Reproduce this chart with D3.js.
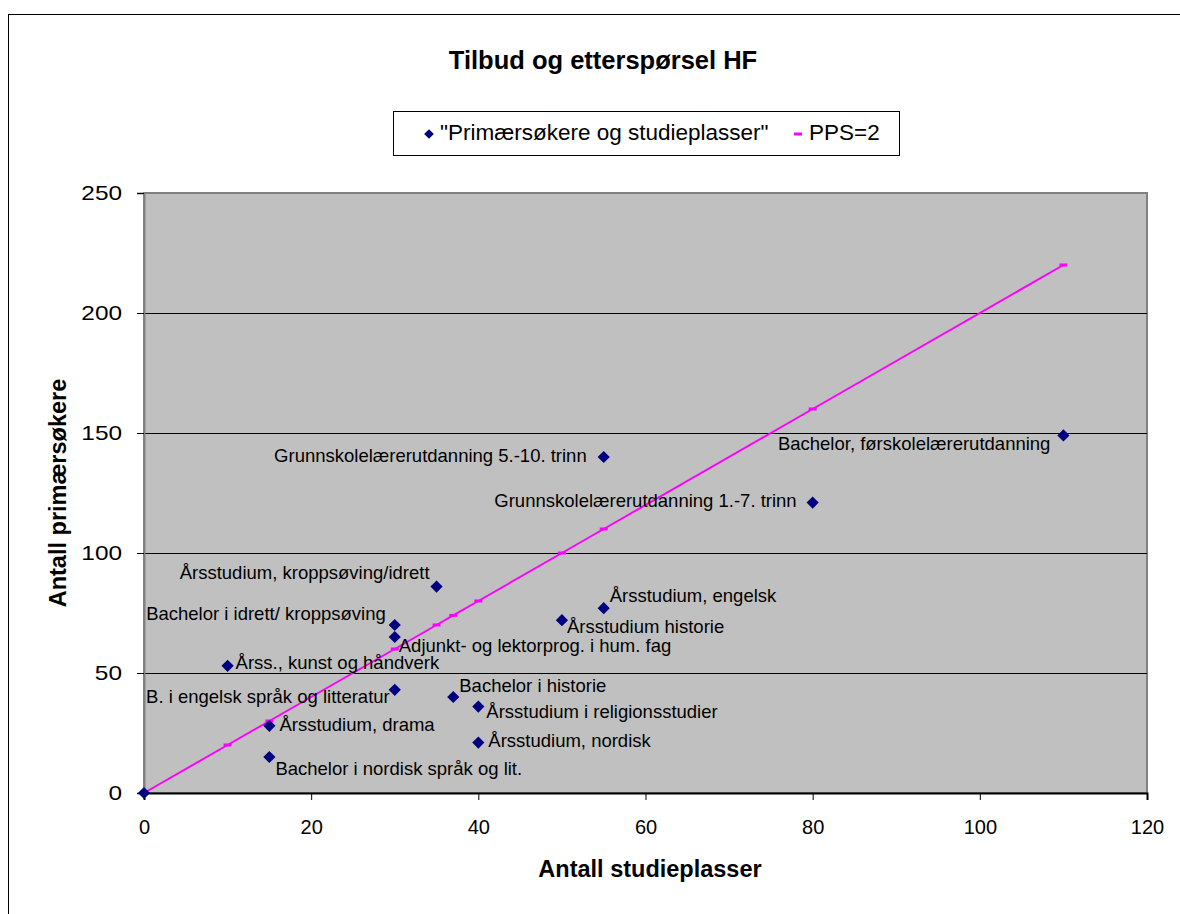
<!DOCTYPE html>
<html><head><meta charset="utf-8">
<script src="https://cdn.jsdelivr.net/npm/d3@7"></script>
<style>body{margin:0;background:#fff;}svg{display:block;font-family:"Liberation Sans",Arial,sans-serif;}</style>
</head><body>
<svg id="c" width="1180" height="914"></svg>
<script>
const programmes = ["", "Grunnskolelærerutdanning 5.-10. trinn", "Bachelor, førskolelærerutdanning",
  "Grunnskolelærerutdanning 1.-7. trinn", "Årsstudium, kroppsøving/idrett", "Bachelor i idrett/ kroppsøving",
  "Adjunkt- og lektorprog. i hum. fag", "Årsstudium, engelsk", "Årsstudium historie",
  "Årss., kunst og håndverk", "B. i engelsk språk og litteratur", "Bachelor i historie",
  "Årsstudium i religionsstudier", "Årsstudium, drama", "Årsstudium, nordisk", "Bachelor i nordisk språk og lit."];
const studieplasser = [0, 55, 110, 80, 35, 30, 30, 55, 50, 10, 30, 37, 40, 15, 40, 15];
const primaersokere = [0, 140, 149, 121, 86, 70, 65, 77, 72, 53, 43, 40, 36, 28, 21, 15];
const ppsX = [0, 10, 15, 30, 35, 37, 40, 50, 55, 80, 110];
const ppsY = [0, 20, 30, 60, 70, 74, 80, 100, 110, 160, 220];
const xTicks = [0, 20, 40, 60, 80, 100, 120];
const yTicks = [0, 50, 100, 150, 200, 250];
// label placement: [anchor, dx, dy] relative to point (layout only)
const labelPlace = [null, ["end",-17,0], ["end",-13,10], ["end",-16,0], ["end",-7,-12], ["end",-9,-10],
  ["start",4,10], ["start",6,-11], ["start",5,8], ["start",8,-2], ["end",-5,8], ["start",6,-10],
  ["start",8,7], ["start",10,0], ["start",10,0], ["start",6,13]];

const svg = d3.select("#c");
const W = 1180, H = 914;
svg.append("rect").attr("x",8.5).attr("y",14.5).attr("width",W).attr("height",H).attr("fill","#fff").attr("stroke","#000").attr("stroke-width",1);

const L = 144, R = 1147, T = 193, B = 793;
const x = d3.scaleLinear().domain([0,120]).range([L,R]);
const y = d3.scaleLinear().domain([0,250]).range([B,T]);

svg.append("rect").attr("x",L).attr("y",T).attr("width",R-L).attr("height",B-T).attr("fill","#c0c0c0").attr("stroke","#808080").attr("stroke-width",2);

// gridlines
svg.append("g").selectAll("line").data(yTicks.filter(d=>d>0 && d<250)).join("line")
  .attr("x1",L).attr("x2",R).attr("y1",d=>Math.round(y(d))+0.5).attr("y2",d=>Math.round(y(d))+0.5)
  .attr("stroke","#000").attr("stroke-width",1);

// axes
const xa = svg.append("g").attr("transform",`translate(0,${B})`)
  .call(d3.axisBottom(x).tickValues(xTicks).tickSize(7).tickPadding(20));
const ya = svg.append("g").attr("transform",`translate(${L},0)`)
  .call(d3.axisLeft(y).tickValues(yTicks).tickSize(7).tickPadding(15));
[xa,ya].forEach(g=>{
  g.selectAll("text").attr("font-size",20).attr("fill","#000").attr("font-family","Liberation Sans, Arial, sans-serif");
  g.selectAll("line").attr("stroke","#000");
});
const sx = 1.22;
ya.selectAll(".tick text").attr("x",-22/sx).attr("transform",`scale(${sx},1)`);
xa.select(".domain").attr("stroke","#000").attr("stroke-width",2);
ya.select(".domain").attr("stroke","#808080").attr("stroke-width",2);

// PPS=2 line
const line = d3.line().x((d,i)=>x(ppsX[i])).y((d,i)=>y(ppsY[i]));
svg.append("path").datum(ppsX).attr("d",line).attr("fill","none").attr("stroke","#ff00ff").attr("stroke-width",2);
svg.append("g").selectAll("line").data(ppsX).join("line")
  .attr("x1",(d,i)=>x(d)-4).attr("x2",(d,i)=>x(d)+4)
  .attr("y1",(d,i)=>y(ppsY[i])).attr("y2",(d,i)=>y(ppsY[i]))
  .attr("stroke","#ff00ff").attr("stroke-width",3);

// points
const pts = studieplasser.map((v,i)=>({x:v,y:primaersokere[i],name:programmes[i],p:labelPlace[i]}));
svg.append("g").selectAll("path").data(pts).join("path")
  .attr("d",d3.symbol().type(d3.symbolDiamond2).size(95))
  .attr("transform",d=>`translate(${x(d.x)},${y(d.y)})`)
  .attr("fill","#000080");
svg.append("g").selectAll("text").data(pts.filter(d=>d.name)).join("text")
  .attr("x",d=>x(d.x)+d.p[1]).attr("y",d=>y(d.y)+d.p[2])
  .attr("text-anchor",d=>d.p[0]).attr("dominant-baseline","middle")
  .attr("font-size",18.5).attr("fill","#000").text(d=>d.name);

// titles
svg.append("text").attr("x",603).attr("y",69).attr("text-anchor","middle").attr("font-size",25.5).attr("font-weight","bold").text("Tilbud og etterspørsel HF");
svg.append("text").attr("x",650).attr("y",877).attr("text-anchor","middle").attr("font-size",23.5).attr("font-weight","bold").text("Antall studieplasser");
svg.append("text").attr("transform","translate(66,493) rotate(-90)").attr("text-anchor","middle").attr("font-size",23.5).attr("font-weight","bold").text("Antall primærsøkere");

// legend
const lg = svg.append("g");
lg.append("rect").attr("x",393.5).attr("y",111.5).attr("width",506).attr("height",44).attr("fill","#fff").attr("stroke","#000");
lg.append("path").attr("d",d3.symbol().type(d3.symbolDiamond2).size(60)).attr("transform","translate(429,134)").attr("fill","#000080");
lg.append("text").attr("x",440).attr("y",134).attr("dominant-baseline","middle").attr("font-size",22.5).text("\"Primærsøkere og studieplasser\"");
lg.append("line").attr("x1",794).attr("x2",802).attr("y1",134).attr("y2",134).attr("stroke","#ff00ff").attr("stroke-width",3);
lg.append("text").attr("x",809).attr("y",134).attr("dominant-baseline","middle").attr("font-size",22.5).text("PPS=2");
</script>
</body></html>
